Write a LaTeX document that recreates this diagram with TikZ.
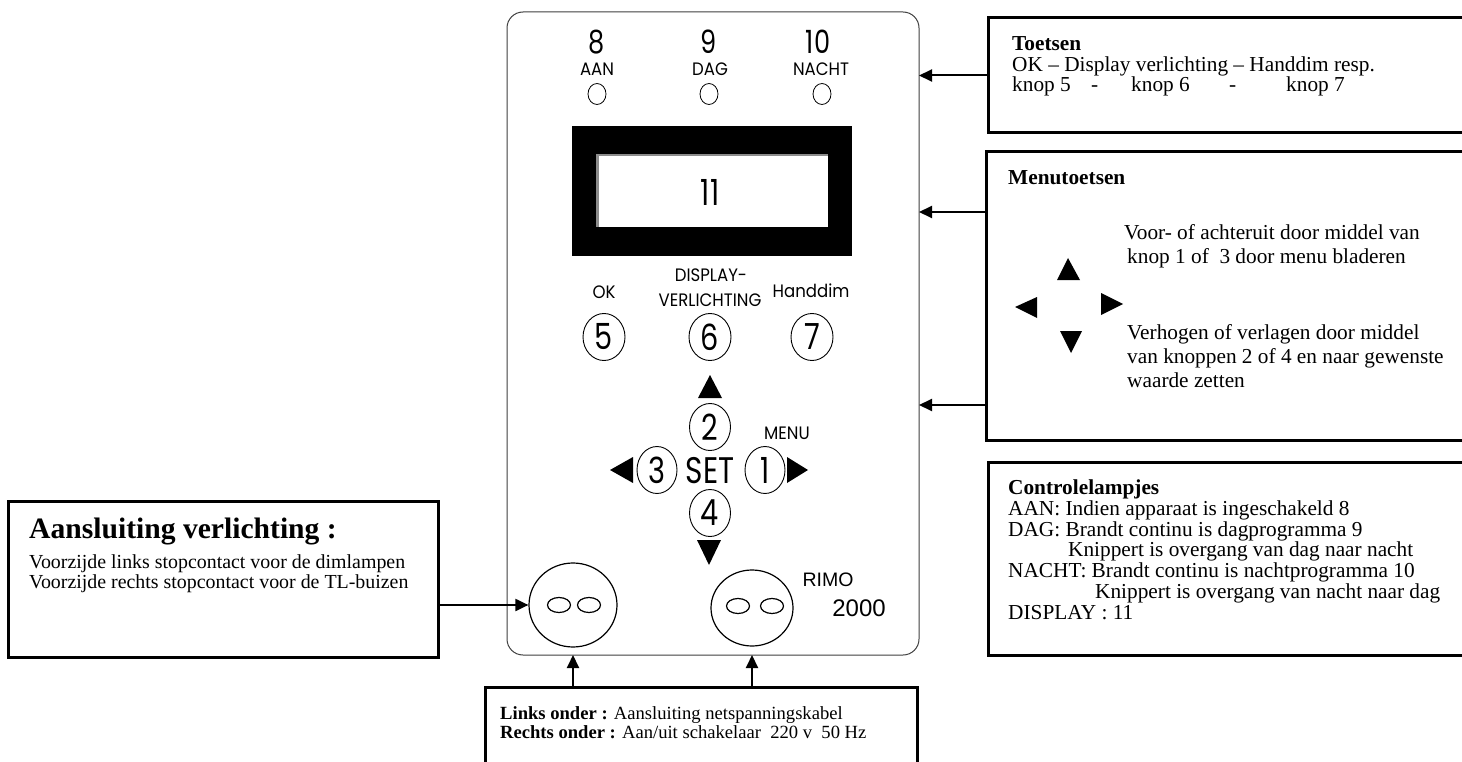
\documentclass[tikz,border=0pt]{standalone}
\usepackage{fontspec}
\setmainfont{Liberation Serif}
\newfontfamily\pnl[FakeStretch=0.8]{Poppins}
\newfontfamily\pnw[FakeStretch=0.92]{Poppins}
\newfontfamily\arl{Liberation Sans}
\usetikzlibrary{arrows.meta,shapes.geometric}
\begin{document}
\begin{tikzpicture}[x=1pt,y=-1pt,
  box/.style={draw,line width=3pt,anchor=north west,inner sep=0pt,outer sep=0pt},
  txt/.style={anchor=base west,inner sep=0pt,font=\fontsize{21.3}{21.3}\selectfont},
  btxt/.style={txt,font=\bfseries\fontsize{21.3}{21.3}\selectfont},
  ltxt/.style={anchor=base west,inner sep=0pt,font=\fontsize{19.9}{19.9}\selectfont},
  stxt/.style={anchor=base west,inner sep=0pt,font=\fontsize{18.6}{18.6}\selectfont},
  arr/.style={line width=2pt,-{Triangle[length=13pt,width=12pt]}},
  ptxt/.style={inner sep=0pt,font=\pnw\fontsize{18}{18}\selectfont},
  pbig/.style={inner sep=0pt,font=\pnl\fontsize{32}{32}\selectfont},
  led/.style={draw,line width=0.8pt,ellipse,minimum width=18pt,minimum height=21pt,inner sep=0pt},
  btn/.style={draw,line width=0.9pt,ellipse,minimum width=42pt,minimum height=47pt,inner sep=0pt,font=\pnl\fontsize{36}{36}\selectfont},
  sock/.style={draw,line width=1.2pt,ellipse,inner sep=0pt},
  hole/.style={draw,line width=1.2pt,ellipse,minimum width=23pt,minimum height=15pt,inner sep=0pt},
  tri/.style={fill=black}
]
\useasboundingbox (0,0) rectangle (1462,762);
\fill[white] (0,0) rectangle (1462,762);

% ---------- panel ----------
\node[draw=black!75,line width=1pt,rounded corners=16pt,anchor=north west,
      minimum width=412pt,minimum height=643pt,inner sep=0pt,outer sep=0pt] (panel) at (507,12) {};

% lamps
\node[pbig] (n8) at (597,42) {8};
\node[pbig] (n9) at (709,42) {9};
\node[pbig] (n10) at (818,42) {10};
\node[ptxt] (aan) at (597,69) {AAN};
\node[ptxt] (dag) at (710,69) {DAG};
\node[ptxt] (nacht) at (821,69) {NACHT};
\node[led] (l8) at (597,94) {};
\node[led] (l9) at (709,94) {};
\node[led] (l10) at (822,94) {};

% display
\node[fill=black,anchor=north west,minimum width=280pt,minimum height=130pt,inner sep=0pt,outer sep=0pt] (disp) at (572,126) {};
\node[fill=white,anchor=north west,minimum width=232pt,minimum height=73pt,inner sep=0pt,outer sep=0pt] (scr) at (596,154) {};
\draw[black!45,line width=2.5pt] ([xshift=1.25pt]scr.south west) -- ([xshift=1.25pt,yshift=-1.25pt]scr.north west) -- ([yshift=-1.25pt]scr.north east);
\node[inner sep=0pt,font=\pnl\fontsize{36}{36}\selectfont] (n11) at (710,192) {11};

% key labels
\node[ptxt] (lok) at (604,292) {OK};
\node[ptxt] (ldisp) at (711,275) {DISPLAY-};
\node[ptxt] (lverl) at (710,300) {VERLICHTING};
\node[ptxt] (lhand) at (811,291) {Handdim};

% keys 5 6 7
\node[btn] (b5) at (604,337) {5};
\node[btn] (b6) at (710,337) {6};
\node[btn] (b7) at (812,337) {7};

% cursor keys
\fill[tri] (710,375) -- (722,398) -- (698,398) -- cycle;
\node[btn,minimum width=41pt] (b2) at (710,427) {2};
\node[inner sep=0pt,font=\pnl\fontsize{37}{37}\selectfont] (set) at (710,471) {SET};
\node[btn,minimum width=40pt] (b3) at (657,470) {3};
\node[btn,minimum width=40pt] (b1) at (765,470) {1};
\node[ptxt] (menu) at (787,433) {MENU};
\fill[tri] (610,470) -- (633,457) -- (633,483) -- cycle;
\fill[tri] (808,470) -- (787,457) -- (787,483) -- cycle;
\node[btn,minimum width=41pt] (b4) at (710,513) {4};
\fill[tri] (697,540) -- (721,540) -- (709,565) -- cycle;

% sockets
\node[sock,minimum width=88pt,minimum height=84pt] (sockL) at (573,605) {};
\node[hole] (hL1) at (559,605) {};
\node[hole] (hL2) at (589,605) {};
\node[sock,minimum width=82pt,minimum height=76pt] (sockR) at (752,608) {};
\node[hole] (hR1) at (738,606) {};
\node[hole] (hR2) at (772,606) {};
\node[inner sep=0pt,font=\arl\fontsize{19.5}{19.5}\selectfont] (rimo) at (828,580) {RIMO};
\node[inner sep=0pt,font=\arl\fontsize{24}{24}\selectfont] (y2000) at (859,608) {2000};

% ---------- Toetsen ----------
\node[box,minimum width=490pt,minimum height=115pt] (toet) at (988,18) {};
\node[btxt] (t1) at (1012,51) {Toetsen};
\node[txt] (t2) at (1012,71.5) {OK -- Display verlichting -- Handdim resp.};
\node[txt] (k5) at (1012,92) {knop 5};
\node[txt] (d1) at (1091,92) {-};
\node[txt] (k6) at (1131,92) {knop 6};
\node[txt] (d2) at (1229,92) {-};
\node[txt] (k7) at (1286,92) {knop 7};

% ---------- Menutoetsen ----------
\node[box,minimum width=490pt,minimum height=288pt] (menub) at (986,152) {};
\node[btxt] (m0) at (1008,185) {Menutoetsen};
\node[txt] (mt1) at (1124,240) {Voor- of achteruit door middel van};
\node[txt] (mt2) at (1127,264) {knop 1 of\ \ 3 door menu bladeren};
\node[txt] (mt3) at (1127,339) {Verhogen of verlagen door middel};
\node[txt] (mt4) at (1127,363) {van knoppen 2 of 4 en naar gewenste};
\node[txt] (mt5) at (1127,387) {waarde zetten};
\fill[tri] (1068,258) -- (1080,280) -- (1057,280) -- cycle;
\fill[tri] (1015,307) -- (1037,297) -- (1037,318) -- cycle;
\fill[tri] (1123,304) -- (1101,293) -- (1101,315) -- cycle;
\fill[tri] (1060,331) -- (1082,331) -- (1071,353) -- cycle;

% ---------- Controlelampjes ----------
\node[box,minimum width=490pt,minimum height=193pt] (ctrl) at (988,462) {};
\node[btxt] (c0) at (1008,494) {Controlelampjes};
\node[txt] (c1) at (1008,515) {AAN: Indien apparaat is ingeschakeld 8};
\node[txt] (c2) at (1008,536) {DAG: Brandt continu is dagprogramma 9};
\node[txt] (c3) at (1068,556.5) {Knippert is overgang van dag naar nacht};
\node[txt] (c4) at (1008,577) {NACHT: Brandt continu is nachtprogramma 10};
\node[txt] (c5) at (1095,598) {Knippert is overgang van nacht naar dag};
\node[txt] (c6) at (1008,619) {DISPLAY : 11};

% ---------- Aansluiting verlichting ----------
\node[box,minimum width=430pt,minimum height=156pt] (lbox) at (8,501) {};
\node[anchor=base west,inner sep=0pt,font=\bfseries\fontsize{29.6}{29.6}\selectfont] (a0) at (29,538) {Aansluiting verlichting :};
\node[ltxt] (a1) at (29,568) {Voorzijde links stopcontact voor de dimlampen};
\node[ltxt] (a2) at (29,588) {Voorzijde rechts stopcontact voor de TL-buizen};

% ---------- bottom box ----------
\node[box,minimum width=432pt,minimum height=100pt] (bbox) at (485,687) {};
\node[stxt] (o1) at (500,719) {\textbf{Links onder :} Aansluiting netspanningskabel};
\node[stxt] (o2) at (500,738.5) {\textbf{Rechts onder :} Aan/uit schakelaar\ \ 220 v\ \ 50 Hz};

% ---------- connectors ----------
\coordinate (ma) at (986,212);
\coordinate (mb) at (986,405);
\draw[arr] (toet.west) -- (toet.west -| panel.east);
\draw[arr] (ma) -- (ma -| panel.east);
\draw[arr] (mb) -- (mb -| panel.east);
\draw[arr] (lbox.east |- sockL.center) -- (sockL.west);
\draw[arr] (sockL.south |- bbox.north) -- (sockL.south |- panel.south);
\draw[arr] (sockR.south |- bbox.north) -- (sockR.south |- panel.south);
\end{tikzpicture}
\end{document}
